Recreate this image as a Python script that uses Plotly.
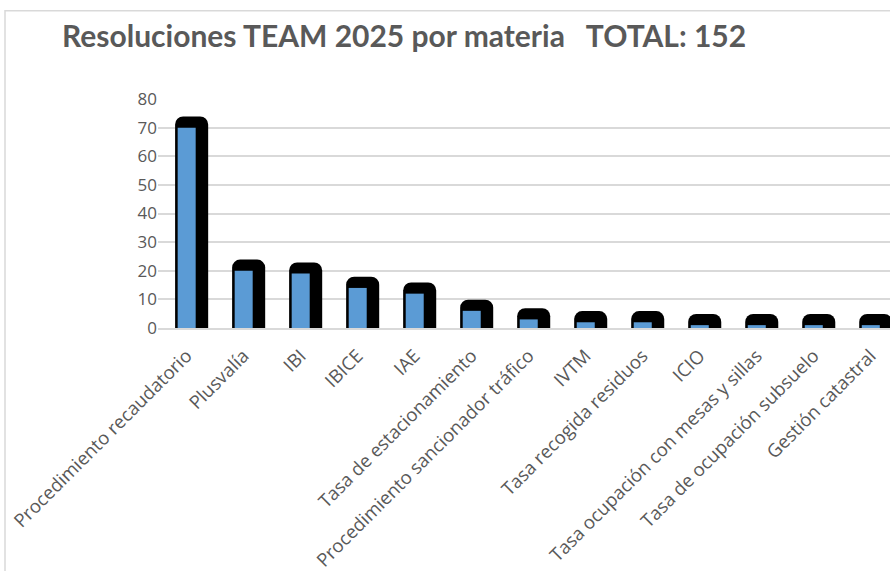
import plotly.graph_objects as go

categories = ["Procedimiento recaudatorio", "Plusvalía", "IBI", "IBICE", "IAE",
              "Tasa de estacionamiento", "Procedimiento sancionador tráfico", "IVTM",
              "Tasa recogida residuos", "ICIO", "Tasa ocupación con mesas y sillas",
              "Tasa de ocupación subsuelo", "Gestión catastral"]
values = [70, 20, 19, 14, 12, 6, 3, 2, 2, 1, 1, 1, 1]
y_ticks = [0, 10, 20, 30, 40, 50, 60, 70, 80]
title_text = "Resoluciones TEAM 2025 por materia\u00a0\u00a0\u00a0TOTAL: 152"

SHADOW_LIFT = 3.9  # visual 3D depth of the shadow, in value units

fig = go.Figure()
fig.add_trace(go.Bar(
    x=categories, y=[v + SHADOW_LIFT for v in values],
    width=0.58, offset=-0.2,
    marker=dict(color="black", line=dict(width=0), cornerradius=8),
    hoverinfo="skip", showlegend=False,
))
fig.add_trace(go.Bar(
    x=categories, y=values,
    width=0.316, offset=-0.155,
    marker=dict(color="#5B9BD5", line=dict(width=0)),
    showlegend=False,
))

fig.update_layout(
    width=890, height=571,
    margin=dict(l=158, r=0, t=99, b=241),
    barmode="overlay",
    plot_bgcolor="white", paper_bgcolor="white",
    font=dict(family="Open Sans", color="#595959", size=16),
    title=dict(text=title_text, x=62/890, xanchor="left", y=1-36/571, yanchor="middle",
               font=dict(family="Lato", size=30, color="#595959", weight="bold")),
    xaxis=dict(range=[-0.5, 12.34], tickangle=-45, showgrid=False,
               showline=True, linecolor="#d9d9d9", linewidth=1.5, ticks="",
               ticklabelstandoff=8,
               tickfont=dict(family="Open Sans", size=18.5, color="#595959"), fixedrange=True),
    yaxis=dict(range=[0, 80], tickvals=y_ticks, showgrid=True, gridcolor="#d9d9d9",
               gridwidth=1.5, zeroline=False, ticks="", showline=False,
               tickfont=dict(family="Open Sans", size=17, color="#595959"), fixedrange=True),
    shapes=[dict(type="rect", xref="paper", yref="paper",
                 x0=(5-158)/732, x1=1.2, y0=-1.5, y1=(330-10)/231,
                 line=dict(color="#d9d9d9", width=1.5), layer="below")],
)

fig.write_html("out.html", config={"displayModeBar": False},
               post_script="document.body.style.margin='0';document.body.style.overflow='hidden';")
